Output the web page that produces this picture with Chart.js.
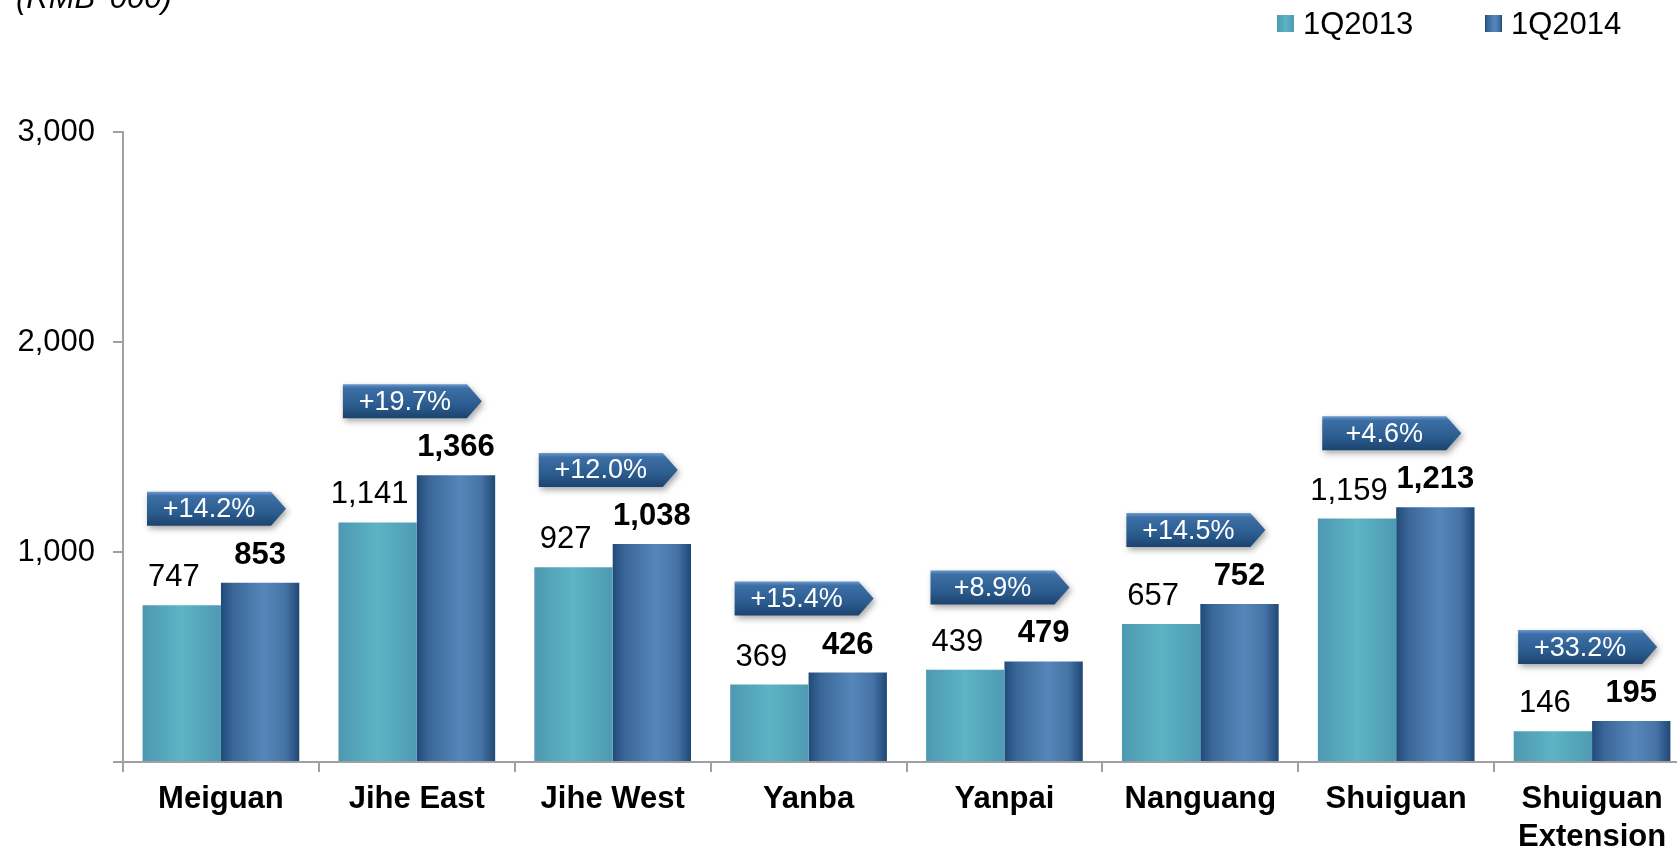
<!DOCTYPE html>
<html>
<head>
<meta charset="utf-8">
<script src="https://cdn.jsdelivr.net/npm/chart.js@4/dist/chart.umd.min.js"></script>
<style>
  html, body { margin: 0; padding: 0; background: #fff; overflow: hidden; }
  #wrap { position: absolute; left: 0; top: 0; width: 1690px; height: 851px; }
</style>
</head>
<body>
<div id="wrap"><canvas id="chart" width="1690" height="851"></canvas></div>
<script>
// ================== DATA ==================
const categories = ['Meiguan', 'Jihe East', 'Jihe West', 'Yanba', 'Yanpai', 'Nanguang', 'Shuiguan', ['Shuiguan', 'Extension']];
const q2013 = [747, 1141, 927, 369, 439, 657, 1159, 146];
const q2014 = [853, 1366, 1038, 426, 479, 752, 1213, 195];
const growth = ['+14.2%', '+19.7%', '+12.0%', '+15.4%', '+8.9%', '+14.5%', '+4.6%', '+33.2%'];
const seriesNames = ['1Q2013', '1Q2014'];
const unitLabel = "(RMB '000)";

const FONT = '"Liberation Sans", Arial, sans-serif';
const AXIS = '#a0a0a0';

// gradient stops for each series (horizontal, across a bar)
const stops2013 = [[0, '#4e98b2'], [0.5, '#5cb4c4'], [1, '#4f9ab3']];
const stops2014 = [[0, '#1f4a78'], [0.15, '#3a6698'], [0.55, '#5687ba'], [0.82, '#4673a6'], [1, '#1e4875']];

function hGradient(ctx, left, width, stops) {
  const g = ctx.createLinearGradient(left, 0, left + width, 0);
  stops.forEach(s => g.addColorStop(s[0], s[1]));
  return g;
}

function barFill(c, stops) {
  const chart = c.chart;
  const x = chart.scales.x;
  if (!x || c.type !== 'data' || !x.width) return stops[1][1];
  const center = x.getPixelForValue(c.dataIndex);
  const w = x.width / categories.length * 0.8 / 2;
  const left = c.datasetIndex === 0 ? center - w : center;
  return hGradient(chart.ctx, left, w, stops);
}

// ================== ANNOTATIONS ==================
function drawArrow(ctx, left, bottom, text) {
  const w = 139, h = 34, tip = 15;
  const top = bottom - h;
  ctx.save();
  ctx.shadowColor = 'rgba(0,0,0,0.35)';
  ctx.shadowBlur = 6;
  ctx.shadowOffsetX = 2;
  ctx.shadowOffsetY = 3;
  const g = ctx.createLinearGradient(0, top, 0, bottom);
  g.addColorStop(0, '#6a98cc');
  g.addColorStop(0.12, '#3c6fa6');
  g.addColorStop(0.6, '#2c5d90');
  g.addColorStop(1, '#1c436e');
  ctx.fillStyle = g;
  ctx.beginPath();
  ctx.moveTo(left, top);
  ctx.lineTo(left + w - tip, top);
  ctx.lineTo(left + w, top + h / 2);
  ctx.lineTo(left + w - tip, bottom);
  ctx.lineTo(left, bottom);
  ctx.closePath();
  ctx.fill();
  ctx.restore();

  ctx.save();
  ctx.fillStyle = '#fff';
  ctx.font = '27px ' + FONT;
  ctx.textAlign = 'center';
  ctx.textBaseline = 'middle';
  ctx.fillText(text, left + (w - tip) / 2, top + h / 2 + 1);
  ctx.restore();
}

const extras = {
  id: 'extras',
  afterDatasetsDraw(chart) {
    const ctx = chart.ctx;
    const x = chart.scales.x, y = chart.scales.y;
    const catW = x.width / categories.length;
    const m0 = chart.getDatasetMeta(0), m1 = chart.getDatasetMeta(1);

    // value labels
    ctx.save();
    ctx.fillStyle = '#000';
    ctx.textAlign = 'center';
    ctx.textBaseline = 'alphabetic';
    q2013.forEach((v, i) => {
      const bar = m0.data[i];
      ctx.font = '31px ' + FONT;
      ctx.fillText(v.toLocaleString('en-US'), bar.x - 8, bar.y - 19);
    });
    q2014.forEach((v, i) => {
      const bar = m1.data[i];
      ctx.font = 'bold 31px ' + FONT;
      ctx.fillText(v.toLocaleString('en-US'), bar.x, bar.y - 19);
    });
    ctx.restore();

    // growth arrows
    growth.forEach((g, i) => {
      const left = x.getPixelForValue(i) - catW / 2 + 24;
      const top = Math.min(y.getPixelForValue(q2013[i]), y.getPixelForValue(q2014[i]));
      drawArrow(ctx, left, top - 57, g);
    });
  },
  afterDraw(chart) {
    const ctx = chart.ctx;
    ctx.save();
    // unit label, top left
    ctx.fillStyle = '#000';
    ctx.font = 'italic 31px ' + FONT;
    ctx.textAlign = 'left';
    ctx.textBaseline = 'alphabetic';
    ctx.fillText(unitLabel, 16, 8);

    // legend
    const items = [[1277, stops2013], [1485, stops2014]];
    ctx.font = '31px ' + FONT;
    ctx.textBaseline = 'middle';
    items.forEach((it, i) => {
      ctx.fillStyle = hGradient(ctx, it[0], 17, it[1]);
      ctx.fillRect(it[0], 15, 17, 17);
      ctx.fillStyle = '#000';
      ctx.fillText(seriesNames[i], it[0] + 26, 25);
    });
    ctx.restore();
  }
};

// ================== CHART ==================
new Chart(document.getElementById('chart'), {
  type: 'bar',
  data: {
    labels: categories,
    datasets: [
      { label: seriesNames[0], data: q2013, backgroundColor: c => barFill(c, stops2013) },
      { label: seriesNames[1], data: q2014, backgroundColor: c => barFill(c, stops2014) }
    ]
  },
  options: {
    responsive: false,
    animation: false,
    devicePixelRatio: 1,
    layout: { padding: { top: 132, left: 0, right: 0, bottom: 0 } },
    datasets: { bar: { categoryPercentage: 0.8, barPercentage: 1.0, borderWidth: 0 } },
    plugins: { legend: { display: false }, tooltip: { enabled: false } },
    scales: {
      x: {
        offset: true,
        grid: { offset: true, drawOnChartArea: false, drawTicks: true, tickLength: 10, color: AXIS, lineWidth: 2 },
        border: { display: true, color: AXIS, width: 2 },
        ticks: {
          color: '#000',
          font: { family: FONT, size: 31, weight: 'bold', lineHeight: 1.22 },
          padding: 9,
          maxRotation: 0,
          autoSkip: false
        },
        afterFit: s => { s.height = 89; }
      },
      y: {
        min: 0,
        max: 3000,
        grid: { drawOnChartArea: false, drawTicks: true, tickLength: 10, color: AXIS, lineWidth: 2 },
        border: { display: true, color: AXIS, width: 2 },
        ticks: {
          stepSize: 1000,
          color: '#000',
          font: { family: FONT, size: 31 },
          padding: 18,
          callback: v => v === 0 ? '' : v.toLocaleString('en-US')
        },
        afterFit: s => { s.width = 123; }
      }
    }
  },
  plugins: [extras]
});
</script>
</body>
</html>
